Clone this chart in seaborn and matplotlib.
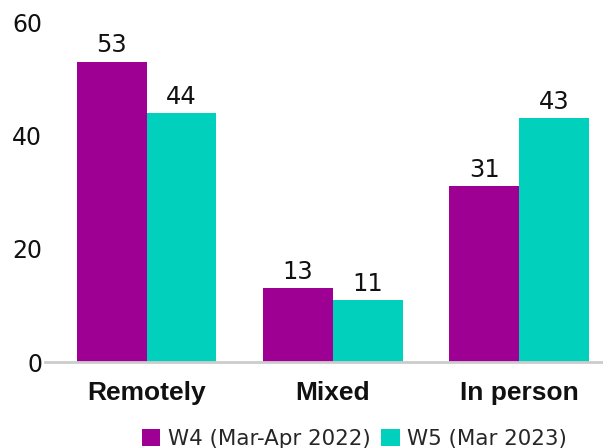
import numpy as np
import pandas as pd
import matplotlib.pyplot as plt
import seaborn as sns

# Data
categories = ['Remotely', 'Mixed', 'In person']
waves = ['W4 (Mar-Apr 2022)', 'W5 (Mar 2023)']
w4_values = [53, 13, 31]
w5_values = [44, 11, 43]
colors = ['#9E0094', '#00D0BC']

df = pd.DataFrame({
    'category': categories * 2,
    'wave': [waves[0]] * 3 + [waves[1]] * 3,
    'value': w4_values + w5_values,
})

sns.set_style('white')
plt.rcParams['font.family'] = ['DejaVu Sans']

fig = plt.figure(figsize=(6.03, 4.48), dpi=100)
# axis line at y=362 px, 60 at y=22 px, axis starts at x=45 px
ax = fig.add_axes([45 / 603, 1 - 362 / 448, 1 - 45 / 603 + 0.01, 340 / 448])

sns.barplot(data=df, x='category', y='value', hue='wave', palette=colors,
            width=0.75, saturation=1, linewidth=0, ax=ax, legend=True)

for c in ax.containers:
    ax.bar_label(c, fmt='%d', padding=3, fontsize=17.5, color='#111111')

ax.set_ylim(0, 60)
ax.set_xlim(-0.545, 2.483)
ax.set_yticks([0, 20, 40, 60])
ax.set_xlabel('')
ax.set_ylabel('')
sns.despine(ax=ax, left=True, top=True, right=True)
ax.spines['bottom'].set_color('#cccccc')
ax.spines['bottom'].set_linewidth(2)
ax.tick_params(axis='y', labelsize=17, length=0, pad=2, labelcolor='#111111')
for lbl in ax.get_yticklabels():
    lbl.set_verticalalignment('center_baseline')
ax.tick_params(axis='x', length=0, pad=14)
for lbl in ax.get_xticklabels():
    lbl.set_fontweight('bold')
    lbl.set_fontsize(19)
    lbl.set_family(['Liberation Sans', 'DejaVu Sans'])
    lbl.set_color('#111111')

handles, labels = ax.get_legend_handles_labels()
ax.get_legend().remove()
fig.legend(handles, labels, loc='center', bbox_to_anchor=(0.588, 0.02), ncol=2,
           frameon=False, fontsize=15.4, handlelength=0.85, handleheight=0.85,
           handletextpad=0.35, columnspacing=0.5)

fig.savefig('out.png', dpi=100)
